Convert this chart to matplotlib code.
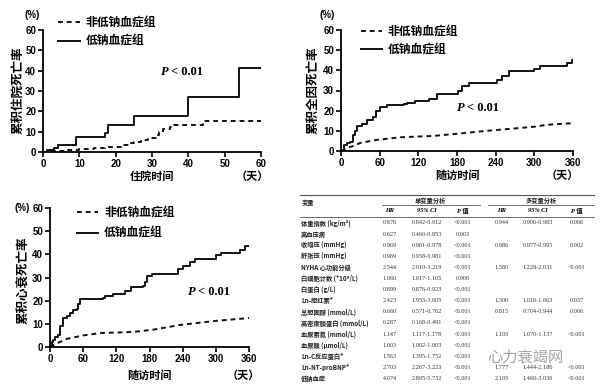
import matplotlib
matplotlib.use('Agg')
import matplotlib.pyplot as plt
from matplotlib.lines import Line2D

plt.rcParams['font.family'] = ['Liberation Sans', 'Noto Sans CJK SC', 'DejaVu Sans']

# 住院期间累积死亡率
hosp_days_hypo = [0, 1, 3, 4, 9, 17, 18, 25, 40, 54, 60]
hosp_hypo = [0, 1.1, 1.8, 3.3, 7.2, 9.3, 13.5, 17.6, 27.1, 41.3, 41.3]
hosp_days_norm = [0, 2, 5, 7, 10, 14, 17, 20, 22, 24, 25, 27, 29, 31, 32, 33, 35, 36, 44, 60]
hosp_norm = [0, 0.3, 0.7, 1.2, 1.5, 2.2, 2.5, 2.7, 3.5, 4.5, 5, 6, 7, 8.5, 10, 11.5, 12.5, 13.2, 15.1, 15.1]

# 随访期间累积全因死亡率
all_days_hypo = [0, 4, 9, 14, 19, 22, 25, 32, 40, 50, 54, 60, 71, 97, 102, 115, 137, 149,
                 182, 188, 198, 242, 250, 260, 299, 309, 351, 358, 360]
all_hypo = [0, 3, 4, 4.5, 8, 10, 12.5, 13.5, 15.5, 17, 20, 21.7, 23, 23.5, 24, 25, 26, 28.3,
            30, 32, 33.5, 35, 37, 39.5, 40.5, 42, 43.5, 45, 45]
all_days_norm = [0, 9, 19, 30, 55, 92, 144, 185, 226, 263, 299, 320, 360]
all_norm = [0, 1.5, 2.5, 4, 5.5, 6.8, 7.5, 8.7, 10, 11, 12, 13, 13.8]

# 随访期间累积心衰死亡率
hf_days_hypo = [0, 3, 6, 9, 15, 18, 23, 30, 37, 41, 48, 51, 54, 96, 99, 114, 135, 147, 169,
                172, 175, 184, 232, 241, 253, 262, 301, 310, 343, 352, 360]
hf_hypo = [0, 2, 3, 4.5, 5, 9, 12.5, 13.5, 14.5, 15.8, 16.5, 18.5, 20.8, 21, 22, 23, 24, 26,
           26.5, 28, 30.5, 31.5, 33.5, 35, 36.5, 38, 39.5, 40.5, 42, 43.5, 43.5]
hf_days_norm = [0, 12, 30, 60, 90, 150, 187, 235, 271, 301, 360]
hf_norm = [0, 1.5, 3.5, 5, 6, 6.5, 7.5, 9.5, 10.5, 11.3, 12.5]

# 表格
tab_vars = ['体重指数 (kg/m²)', '高血压病', '收缩压 (mmHg)', '舒张压 (mmHg)', 'NYHA 心功能分级',
            '白细胞计数 (*10⁹/L)', '白蛋白 (g/L)', 'Ln-胆红素*', '总胆固醇 (mmol/L)',
            '高密度脂蛋白 (mmol/L)', '血尿素氮 (mmol/L)', '血尿酸 (μmol/L)', 'Ln-C反应蛋白*',
            'Ln-NT-proBNP*', '低钠血症']
uni_hr = ['0.876', '0.627', '0.969', '0.969', '2.544', '1.060', '0.899', '2.423', '0.660',
          '0.287', '1.147', '1.003', '1.563', '2.703', '4.074']
uni_ci = ['0.842-0.912', '0.460-0.853', '0.961-0.978', '0.958-0.981', '2.010-3.219', '1.017-1.105',
          '0.876-0.923', '1.953-3.005', '0.571-0.762', '0.168-0.491', '1.117-1.178', '1.002-1.003',
          '1.395-1.752', '2.267-3.223', '2.895-5.732']
uni_p = ['<0.001', '0.003', '<0.001', '<0.001', '<0.001', '0.006', '<0.001', '<0.001', '<0.001',
         '<0.001', '<0.001', '<0.001', '<0.001', '<0.001', '<0.001']
multi_hr = ['0.944', '', '0.986', '', '1.580', '', '', '1.300', '0.815', '', '1.103', '', '', '1.777', '2.105']
multi_ci = ['0.906-0.983', '', '0.977-0.995', '', '1.229-2.031', '', '', '1.016-1.663', '0.704-0.944',
            '', '1.070-1.137', '', '', '1.444-2.186', '1.460-3.036']
multi_p = ['0.006', '', '0.002', '', '<0.001', '', '', '0.037', '0.006', '', '<0.001', '', '',
           '<0.001', '<0.001']

W, H = 604, 384
fig = plt.figure(figsize=(W / 100, H / 100), dpi=100)


def px(x, y):
    return x / W, 1 - y / H


def make_ax(l, t, r, b):
    ax = fig.add_axes([l / W, 1 - b / H, (r - l) / W, (b - t) / H])
    for s in ['top', 'right']:
        ax.spines[s].set_visible(False)
    for s in ['left', 'bottom']:
        ax.spines[s].set_linewidth(1.3)
    ax.tick_params(length=3.5, width=1.2, labelsize=7, pad=1.5)
    ax.set_ylim(0, 60)
    ax.set_yticks(range(0, 61, 10))
    return ax


def bold_ticks(ax):
    for lab in ax.get_xticklabels() + ax.get_yticklabels():
        lab.set_fontweight('bold')


def curves(ax, dn, yn, dh, yh, step_norm):
    if step_norm:
        ax.step(dn, yn, where='post', color='#111111', lw=1.4, dashes=(2.5, 2), label='非低钠血症组')
    else:
        ax.plot(dn, yn, color='#111111', lw=1.4, dashes=(2.5, 2), label='非低钠血症组')
    ax.step(dh, yh, where='post', color='#111111', lw=1.4, label='低钠血症组')


def legend(ax, x, y, spacing):
    ax.legend(loc='upper left', bbox_to_anchor=(x, y), frameon=False, borderaxespad=0, borderpad=0,
              handlelength=1.8, handletextpad=0.5, labelspacing=spacing,
              prop={'family': ['Noto Sans CJK SC'], 'weight': 'bold', 'size': 8.5})


def ptext(ax, x, y):
    ax.text(x, y, 'P', style='italic', weight='bold', family='Liberation Serif', fontsize=9, va='center')
    ax.annotate('< 0.01', xy=(x, y), xytext=(7, 0), textcoords='offset points', va='center',
                weight='bold', family='Liberation Serif', fontsize=9)


ylab_kw = dict(rotation=90, ha='center', va='center', family=['Noto Sans CJK SC'],
               weight='bold', fontsize=9)
cjk_kw = dict(family=['Noto Sans CJK SC'], weight='bold', fontsize=8, ha='center', va='center')

# 图1
ax1 = make_ax(43, 30, 261, 152)
curves(ax1, hosp_days_norm, hosp_norm, hosp_days_hypo, hosp_hypo, True)
ax1.set_xlim(0, 60)
ax1.set_xticks(range(0, 61, 10))
bold_ticks(ax1)
legend(ax1, 0.07, 1.11, 0.45)
ptext(ax1, 32.5, 39.5)
fig.text(*px(32, 15), '(%)', fontsize=7, weight='bold', ha='center', va='center')
fig.text(*px(18, 90), '累积住院死亡率', **ylab_kw)
fig.text(*px(152, 176), '住院时间', **cjk_kw)
fig.text(*px(252, 176), '（天）', **cjk_kw)

# 图2
ax2 = make_ax(341, 30, 573, 151)
curves(ax2, all_days_norm, all_norm, all_days_hypo, all_hypo, False)
ax2.set_xlim(0, 360)
ax2.set_xticks(range(0, 361, 60))
bold_ticks(ax2)
legend(ax2, 0.085, 1.04, 0.45)
ptext(ax2, 180, 21.5)
fig.text(*px(327, 15), '(%)', fontsize=7, weight='bold', ha='center', va='center')
fig.text(*px(313, 90), '累积全因死亡率', **ylab_kw)
fig.text(*px(457, 175), '随访时间', **cjk_kw)
fig.text(*px(562, 175), '（天）', **cjk_kw)

# 图3
ax3 = make_ax(50, 208, 249, 347)
curves(ax3, hf_days_norm, hf_norm, hf_days_hypo, hf_hypo, False)
ax3.set_xlim(0, 360)
ax3.set_xticks(range(0, 361, 60))
bold_ticks(ax3)
legend(ax3, 0.135, 1.01, 0.6)
ptext(ax3, 250, 23.7)
fig.text(*px(22, 208), '(%)', fontsize=7, weight='bold', ha='center', va='center')
fig.text(*px(24, 280), '累积心衰死亡率', **ylab_kw)
fig.text(*px(150, 375), '随访时间', **cjk_kw)
fig.text(*px(243, 375), '（天）', **cjk_kw)

# 表格
def hline(x0, x1, y, lw=0.8):
    fig.add_artist(Line2D([x0 / W, x1 / W], [1 - y / H, 1 - y / H], color='#555555', lw=lw))


hline(300, 594, 195)
hline(382, 480, 205, 0.6)
hline(488, 594, 205, 0.6)
hline(300, 594, 217, 0.6)

tkw = dict(family=['Noto Sans CJK SC', 'DejaVu Sans'], weight='bold', fontsize=4.5, va='center',
           color='#222222')
nkw = dict(family='Liberation Serif', fontsize=4.5, va='center', ha='center', color='#333333')
fig.text(*px(302, 203), '变量', ha='left', **tkw)
fig.text(*px(430, 200), '单变量分析', ha='center', **tkw)
fig.text(*px(541, 200), '多变量分析', ha='center', **tkw)
cols = [390, 427, 463, 502, 538, 577]
for cx in [0, 3]:
    fig.text(*px(cols[cx], 211), 'HR', style='italic', weight='bold', family='Liberation Serif',
             fontsize=4.5, ha='center', va='center')
    fig.text(*px(cols[cx + 1], 211), '95% CI', style='italic', weight='bold', family='Liberation Serif',
             fontsize=4.5, ha='center', va='center')
    fig.text(*px(cols[cx + 2], 211), 'P 值', style='italic', weight='bold',
             family=['Liberation Serif', 'Noto Sans CJK SC'], fontsize=4.5, ha='center', va='center')

for i, name in enumerate(tab_vars):
    y = 223 + i * 11.1
    fig.text(*px(301, y), name, ha='left', **tkw)
    for cx, vals in zip(cols, [uni_hr, uni_ci, uni_p, multi_hr, multi_ci, multi_p]):
        fig.text(*px(cx, y), vals[i], **nkw)

fig.text(*px(525, 357), '心力衰竭网', family=['Noto Sans CJK SC'], fontsize=11, color='#9a9a9a',
         ha='center', va='center', alpha=0.9)

fig.savefig('out.png', dpi=100)
